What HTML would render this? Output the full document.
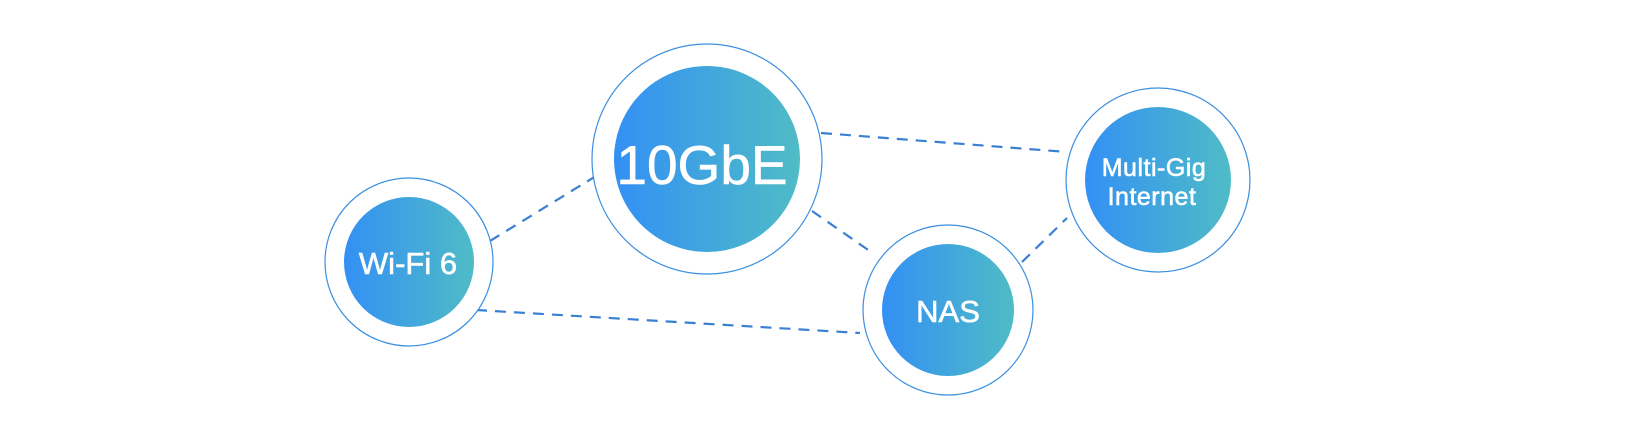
<!DOCTYPE html>
<html><head><style>
html,body{margin:0;padding:0;background:#fff;}
svg{display:block;}
text{font-family:"Liberation Sans",sans-serif;fill:#fff;stroke:#fff;stroke-width:0.6;text-anchor:middle;}
</style></head><body>
<svg width="1640" height="432" viewBox="0 0 1640 432">
<defs>
<linearGradient id="g" x1="0" y1="0" x2="1" y2="0">
<stop offset="0" stop-color="#3390f4"/><stop offset="1" stop-color="#4fbcc6"/>
</linearGradient>
</defs>
<g stroke="#3a80d2" stroke-width="2.2" stroke-dasharray="11 8" fill="none">
<line x1="490" y1="241" x2="596" y2="176"/>
<line x1="476" y1="310" x2="860" y2="333"/>
<line x1="821" y1="133" x2="1067" y2="152"/>
<line x1="812" y1="211" x2="874" y2="254"/>
<line x1="1022" y1="262" x2="1067" y2="218"/>
</g>
<g fill="#fff" stroke="#3a8fe0" stroke-width="1.2">
<circle cx="707" cy="159" r="115"/>
<circle cx="409" cy="262" r="84"/>
<circle cx="948" cy="310" r="85"/>
<circle cx="1158" cy="180" r="92"/>
</g>
<g fill="url(#g)">
<circle cx="707" cy="159" r="93"/>
<circle cx="409" cy="262" r="65"/>
<circle cx="948" cy="310" r="66"/>
<circle cx="1158" cy="180" r="73"/>
</g>
<text x="702" y="184" font-size="55">10GbE</text>
<text x="408" y="274" font-size="31">Wi-Fi 6</text>
<text x="948" y="322" font-size="31">NAS</text>
<text x="1154" y="176" font-size="25" letter-spacing="0.5">Multi-Gig</text>
<text x="1152" y="205" font-size="25" letter-spacing="0.5">Internet</text>
</svg>
</body></html>
